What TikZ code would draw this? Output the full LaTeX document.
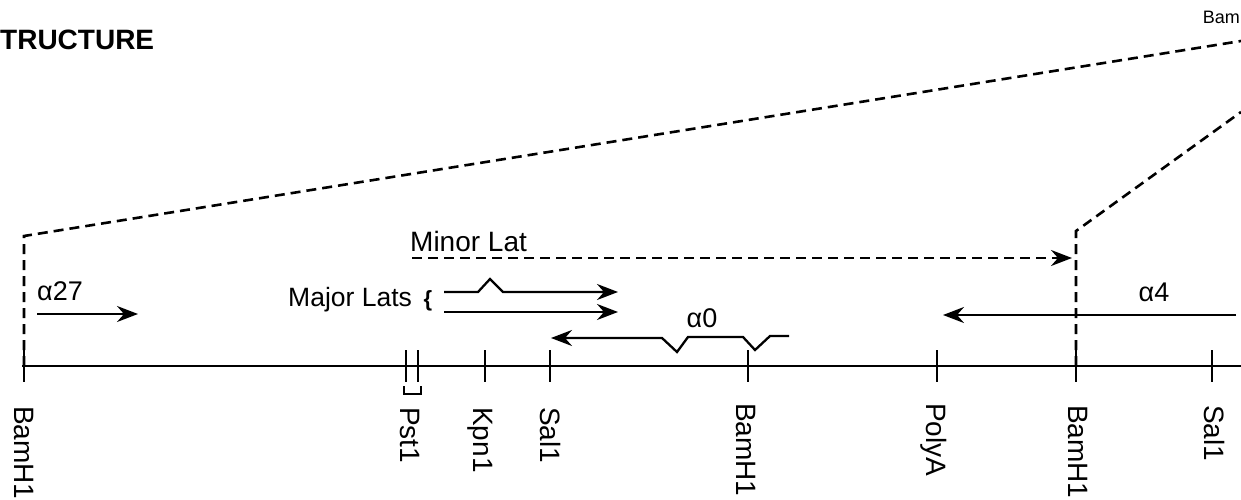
\documentclass[tikz,border=0pt]{standalone}
\usepackage{fontspec}
\setmainfont{Liberation Sans}
\usetikzlibrary{arrows.meta}
\begin{document}
\begin{tikzpicture}[x=1pt,y=-1pt,
  lbl/.style={font=\fontsize{28}{30}\selectfont, inner sep=0pt},
  alab/.style={font=\fontsize{27}{30}\selectfont, inner sep=0pt},
  site/.style={lbl, rotate=-90, anchor=west},
  dline/.style={line width=2.6pt, dash pattern=on 10pt off 6pt},
  tip/.style={-{Stealth[length=21pt,width=16pt,inset=7pt]}},
  arr/.style={line width=2.3pt, tip},
  tickmark/.style={line width=2pt},
  mainline/.style={line width=2.6pt}]
\useasboundingbox (0,0) rectangle (1241,500);

% title fragments
\node[inner sep=0pt, font=\fontsize{28}{30}\selectfont\bfseries, anchor=west] (title) at (0,40) {TRUCTURE};
\node[inner sep=0pt, font=\fontsize{18}{20}\selectfont, anchor=east] (bam) at (1240,17) {Bam};

% main line
\coordinate (L) at (22,366);
\coordinate (R) at (1241,366);
\draw[mainline] (L) -- (R);

% ticks
\foreach \x in {24,406,418,485,550,748,937,1076,1212}
  \draw[tickmark] (\x,350) -- (\x,382);

% site labels
\node[site] (b1) at (24,406) {BamH1};
\coordinate (pb0) at (404,386);
\coordinate (pb1) at (421,386);
\draw[line width=2.6pt] (pb0) -- ++(0,8) -| (pb1);
\node[site] (p1) at (410,407) {Pst1};
\node[site] (k1) at (480,407) {Kpn1};
\node[site] (s1) at (550,407) {Sal1};
\node[site] (b2) at (746,403) {BamH1};
\node[site] (pa) at (934,403) {PolyA};
\node[site] (b3) at (1078,405) {BamH1};
\node[site] (s2) at (1214,405) {Sal1};

% dashed expansion lines
\coordinate (dl0) at (24,366);
\coordinate (dl1) at (24,236);
\coordinate (dl2) at (1241,41);
\draw[dline] (dl0) -- (dl1) -- (dl2);
\coordinate (dr0) at (1076,366);
\coordinate (dr1) at (1076,231);
\coordinate (dr2) at (1241,112);
\draw[dline] (dr0) -- (dr1) -- (dr2);

% Minor Lat
\node[lbl, anchor=west] (minor) at (410,241) {Minor Lat};
\coordinate (m0) at (412,258);
\coordinate (m1) at (1072,258);
\draw[dline, tip] (m0) -- (m1);

% alpha27
\node[alab, anchor=west] (a27) at (37,291) {α27};
\coordinate (a27s) at (37,314);
\coordinate (a27e) at (138,314);
\draw[arr] (a27s) -- (a27e);

% Major Lats
\node[inner sep=0pt, font=\fontsize{26.5}{30}\selectfont, anchor=west] (major) at (288,300) {Major Lats};
\node[inner sep=0pt, font=\fontsize{22}{24}\selectfont\bfseries] (brace) at (428,301) {\{};
\coordinate (u0) at (444,292);
\coordinate (u1) at (478,292);
\coordinate (u2) at (490,279);
\coordinate (u3) at (503,292);
\coordinate (u4) at (618,292);
\draw[arr] (u0) -- (u1) -- (u2) -- (u3) -- (u4);
\coordinate (l0) at (444,312);
\coordinate (l1) at (618,312);
\draw[arr] (l0) -- (l1);

% alpha0
\node[alab] (a0) at (702,318) {α0};
\coordinate (z0) at (789,336);
\coordinate (z1) at (770,336);
\coordinate (z2) at (755,350);
\coordinate (z3) at (743,337);
\coordinate (z4) at (688,337);
\coordinate (z5) at (677,352);
\coordinate (z6) at (662,338);
\coordinate (z7) at (551,338);
\draw[arr] (z0) -- (z1) -- (z2) -- (z3) -- (z4) -- (z5) -- (z6) -- (z7);

% alpha4
\node[alab] (a4) at (1154,292) {α4};
\coordinate (f0) at (1236,315);
\coordinate (f1) at (943,315);
\draw[arr] (f0) -- (f1);
\end{tikzpicture}
\end{document}
